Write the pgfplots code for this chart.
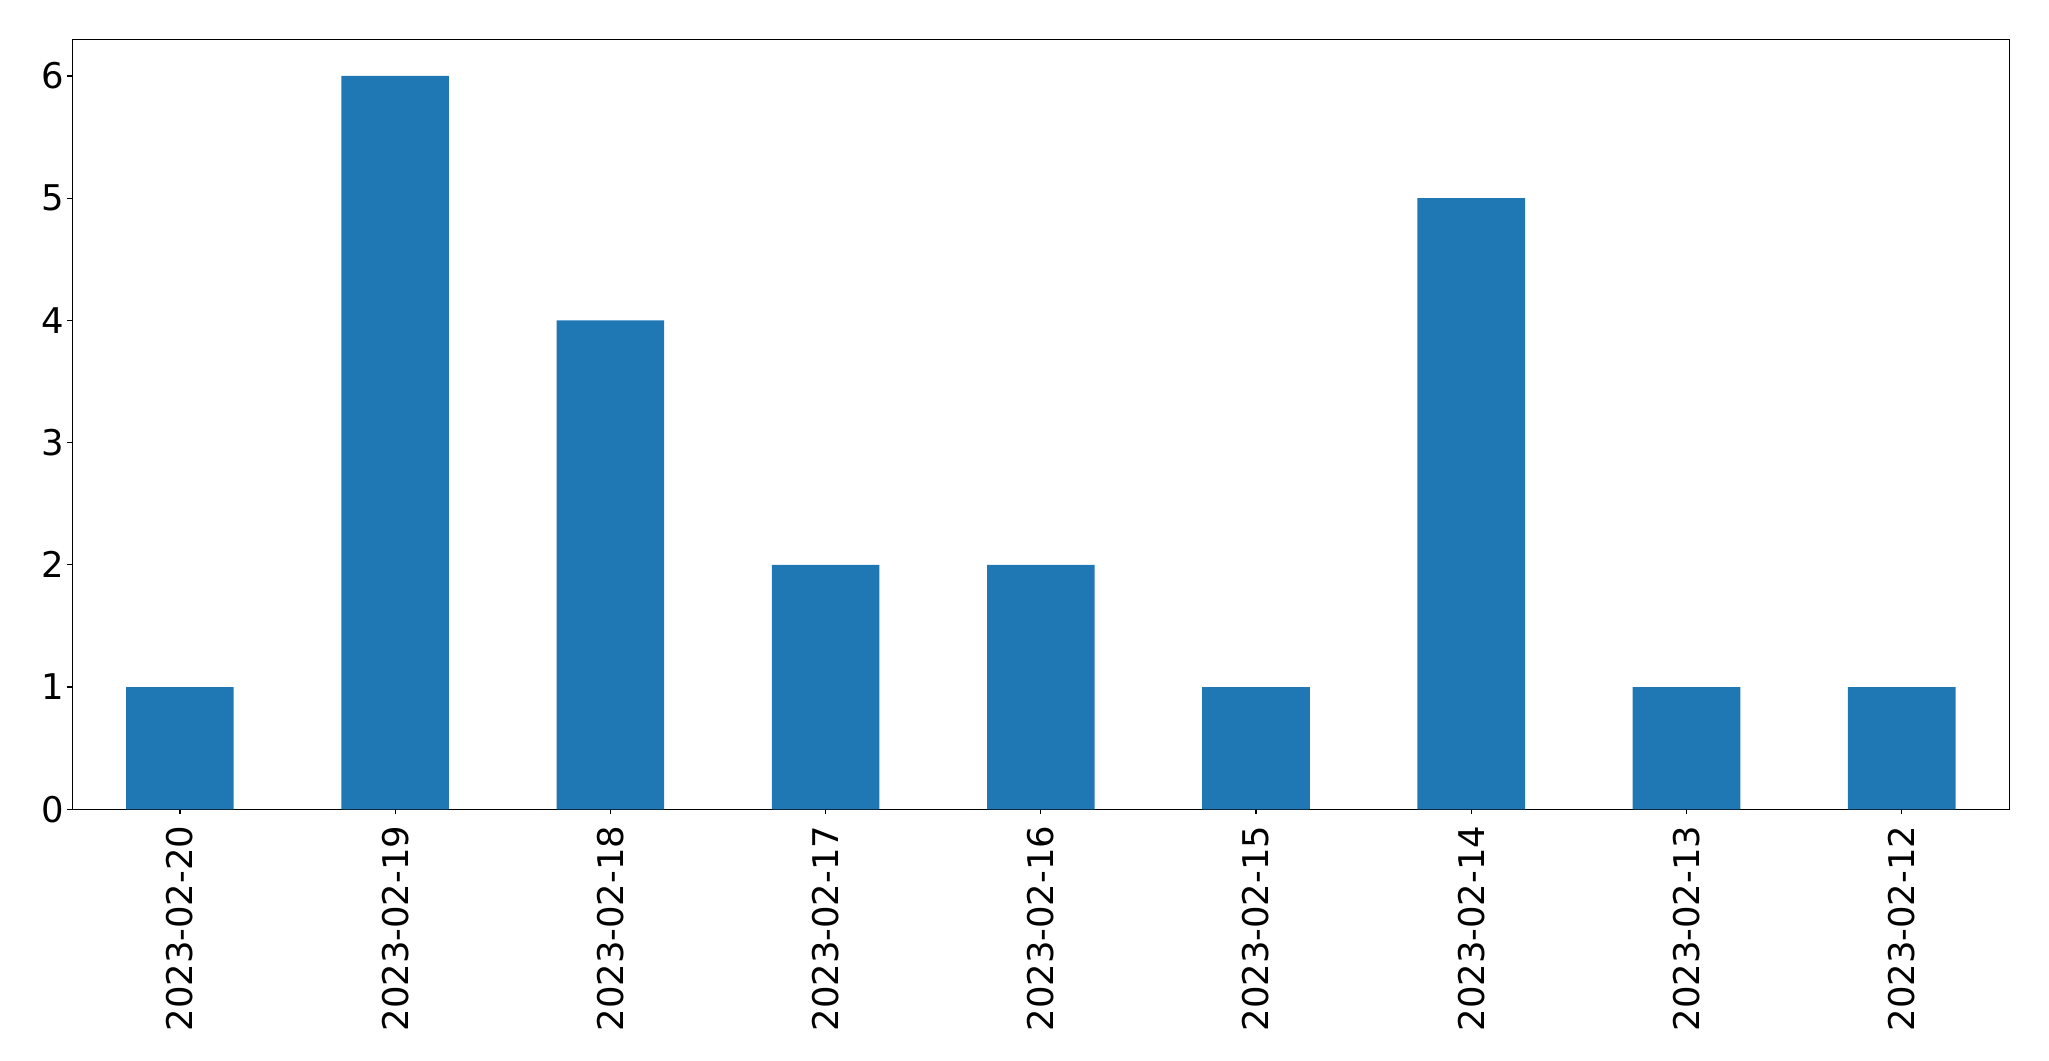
\documentclass[border=0pt]{standalone}
\usepackage{pgfplots}
\pgfplotsset{compat=1.18}
\usepackage{fontspec}
\setmainfont{DejaVu Sans}
\definecolor{mplblue}{HTML}{1F77B4}
\begin{document}
\begin{tikzpicture}
\begin{axis}[
  name=ax,
  scale only axis,
  width=968.5pt, height=385pt,
  xmin=-0.5, xmax=8.5, ymin=0, ymax=6.3,
  axis line style={line width=0.6pt},
  tick style={line width=0.6pt, black},
  major tick length=2.5pt,
  tick align=outside,
  xtick pos=bottom, ytick pos=left,
  xtick={0,...,8},
  xticklabels={2023-02-20,2023-02-19,2023-02-18,2023-02-17,2023-02-16,2023-02-15,2023-02-14,2023-02-13,2023-02-12},
  ytick={0,1,2,3,4,5,6},
  /pgf/number format/assume math mode=true,
  ticklabel style={font=\fontsize{17.7}{21}\selectfont},
  xticklabel style={yshift=-5.5pt, rotate=90, anchor=east, inner sep=0pt},
  yticklabel style={anchor=east, inner sep=0pt, xshift=-1.5pt},
  ybar, bar width=0.5,
]
\addplot[fill=mplblue, draw=none] coordinates {(0,1) (1,6) (2,4) (3,2) (4,2) (5,1) (6,5) (7,1) (8,1)};
\end{axis}
\path ([xshift=-36.15pt,yshift=-125.85pt]ax.south west) rectangle ([xshift=19.85pt,yshift=19.65pt]ax.north east);
\end{tikzpicture}
\end{document}
